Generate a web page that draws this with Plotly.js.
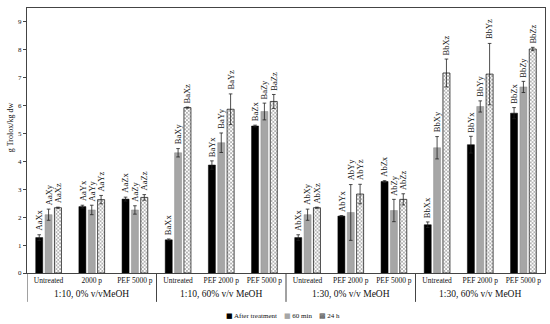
<!DOCTYPE html>
<html>
<head>
<meta charset="utf-8">
<script src="https://cdn.plot.ly/plotly-3.0.1.min.js"></script>
<style>html,body{margin:0;padding:0;background:#fff;}#chart{width:550px;height:324px;}</style>
</head>
<body>
<div id="chart"></div>
<script>
// ---- data ----
const groups = ["1:10, 0% v/vMeOH", "1:10, 60% v/v MeOH", "1:30, 0% v/v MeOH", "1:30, 60% v/v MeOH"];
const subLabels = [
  "Untreated", "2000 p", "PEF 5000 p",
  "Untreated", "PEF 2000 p", "PEF 5000 p",
  "Untreated", "PEF 2000 p", "PEF 5000 p",
  "Untreated", "PEF 2000 p", "PEF 5000 p"
];
const seriesNames = ["After treatment", "60 min", "24 h"];
const yTitle = "g Trolox/kg dw";

const afterTreatment    = [1.27, 2.38, 2.65, 1.19, 3.87, 5.27, 1.27, 2.04, 3.28, 1.73, 4.60, 5.73];
const afterTreatmentErr = [0.10, 0.05, 0.07, 0.03, 0.15, 0.03, 0.10, 0.02, 0.03, 0.10, 0.30, 0.20];
const min60             = [2.09, 2.26, 2.26, 4.31, 4.67, 5.79, 2.09, 2.17, 2.24, 4.49, 5.97, 6.67];
const min60Err          = [0.20, 0.17, 0.15, 0.15, 0.35, 0.30, 0.20, 1.00, 0.40, 0.40, 0.20, 0.20];
const h24               = [2.34, 2.63, 2.71, 5.93, 5.87, 6.15, 2.34, 2.83, 2.64, 7.17, 7.13, 8.03];
const h24Err            = [0.02, 0.15, 0.10, 0.02, 0.55, 0.25, 0.02, 0.35, 0.20, 0.50, 1.10, 0.06];

const labelsAfter = ["AaXx","AaYx","AaZx","BaXx","BaYx","BaZx","AbXx","AbYx","AbZx","BbXx","BbYx","BbZx"];
const labels60    = ["AaXy","AaYy","AaZy","BaXy","BaYy","BaZy","AbXy","AbYy","AbZy","BbXy","BbYy","BbZy"];
const labels24    = ["AaXz","AaYz","AaZz","BaXz","BaYz","BaZz","AbXz","AbYz","AbZz","BbXz","BbYz","BbZz"];

const yTicks = [0,1,2,3,4,5,6,7,8,9];

// ---- build ----
const xIdx = subLabels.map((_, i) => i);
const FONT = "Liberation Serif, Times New Roman, serif";
const bargap = 0.35;
const slot = (1 - bargap) / 3;
const colors = ["#000000", "#a6a6a6", "#ffffff"];

const errStyle = (arr) => ({type: "data", array: arr, visible: true, color: "#222", thickness: 0.8, width: 1.8});

const traces = [
  {type: "bar", name: seriesNames[0], x: xIdx, y: afterTreatment, error_y: errStyle(afterTreatmentErr),
   marker: {color: colors[0], line: {color: "#000", width: 0.5}}},
  {type: "bar", name: seriesNames[1], x: xIdx, y: min60, error_y: errStyle(min60Err),
   marker: {color: colors[1], line: {color: "#8c8c8c", width: 0.5}}},
  {type: "bar", name: seriesNames[2], x: xIdx, y: h24, error_y: errStyle(h24Err),
   marker: {color: colors[2], line: {color: "#222", width: 0.8},
            pattern: {shape: "x", size: 2.6, solidity: 0.4, fgcolor: "#888", bgcolor: "#ffffff"}}}
];

const annotations = [];
const allVals = [afterTreatment, min60, h24];
const allErr = [afterTreatmentErr, min60Err, h24Err];
const allLab = [labelsAfter, labels60, labels24];
for (let t = 0; t < 3; t++) {
  for (let i = 0; i < xIdx.length; i++) {
    annotations.push({
      xref: "x", yref: "y", x: xIdx[i] + (t - 1) * slot, y: allVals[t][i] + allErr[t][i],
      text: allLab[t][i], showarrow: false, textangle: -90,
      xanchor: "center", yanchor: "bottom", yshift: 2,
      font: {family: FONT, size: 8.5, color: "#111"}
    });
  }
}
// group labels and dividers
const shapes = [];
groups.forEach((g, gi) => {
  annotations.push({
    xref: "x", yref: "paper", x: gi * 3 + 1, y: -0.079, text: g, showarrow: false,
    xanchor: "center", yanchor: "middle", font: {family: FONT, size: 9.5, color: "#111"}
  });
  shapes.push({type: "line", xref: "x", yref: "paper", x0: gi * 3 - 0.5, x1: gi * 3 - 0.5,
    y0: 0, y1: -0.109, line: {color: "#444", width: 1}});
});
// y-axis title
annotations.push({
  xref: "paper", yref: "paper", x: -0.033, y: 0.55, xanchor: "center", yanchor: "middle",
  text: yTitle, textangle: -90, showarrow: false, font: {family: FONT, size: 8, color: "#111"}
});
// compact legend as text
const sym = (c, ch) => '<span style="color:' + c + ';font-family:DejaVu Sans;font-size:7px">' + ch + '</span>';
annotations.push({
  xref: "paper", yref: "paper", x: 0.494, y: -0.162, xanchor: "center", yanchor: "middle", showarrow: false,
  text: sym("#000", "■") + " " + seriesNames[0] + "    " + sym("#a6a6a6", "■") + " " + seriesNames[1] +
        "    " + sym("#444", "▩") + " " + seriesNames[2],
  font: {family: FONT, size: 7, color: "#111"}
});

const layout = {
  width: 550, height: 324,
  margin: {l: 27, r: 5, t: 8, b: 51},
  paper_bgcolor: "#fff", plot_bgcolor: "#fff",
  barmode: "group", bargap: bargap, bargroupgap: 0.25,
  showlegend: false,
  xaxis: {
    range: [-0.5, 11.5], tickvals: xIdx, ticktext: subLabels, ticks: "",
    tickfont: {family: FONT, size: 7.5, color: "#111"},
    showline: true, linecolor: "#444", linewidth: 1, mirror: true,
    showgrid: false, zeroline: false, fixedrange: true
  },
  yaxis: {
    range: [0, 9.5], tickvals: yTicks, ticks: "outside", ticklen: 3, tickcolor: "#444",
    tickfont: {family: FONT, size: 7, color: "#111"},
    showline: true, linecolor: "#444", linewidth: 1, mirror: true,
    showgrid: false, zeroline: false
  },
  annotations: annotations,
  shapes: shapes
};

Plotly.newPlot("chart", traces, layout, {displayModeBar: false, staticPlot: true});
</script>
</body>
</html>
